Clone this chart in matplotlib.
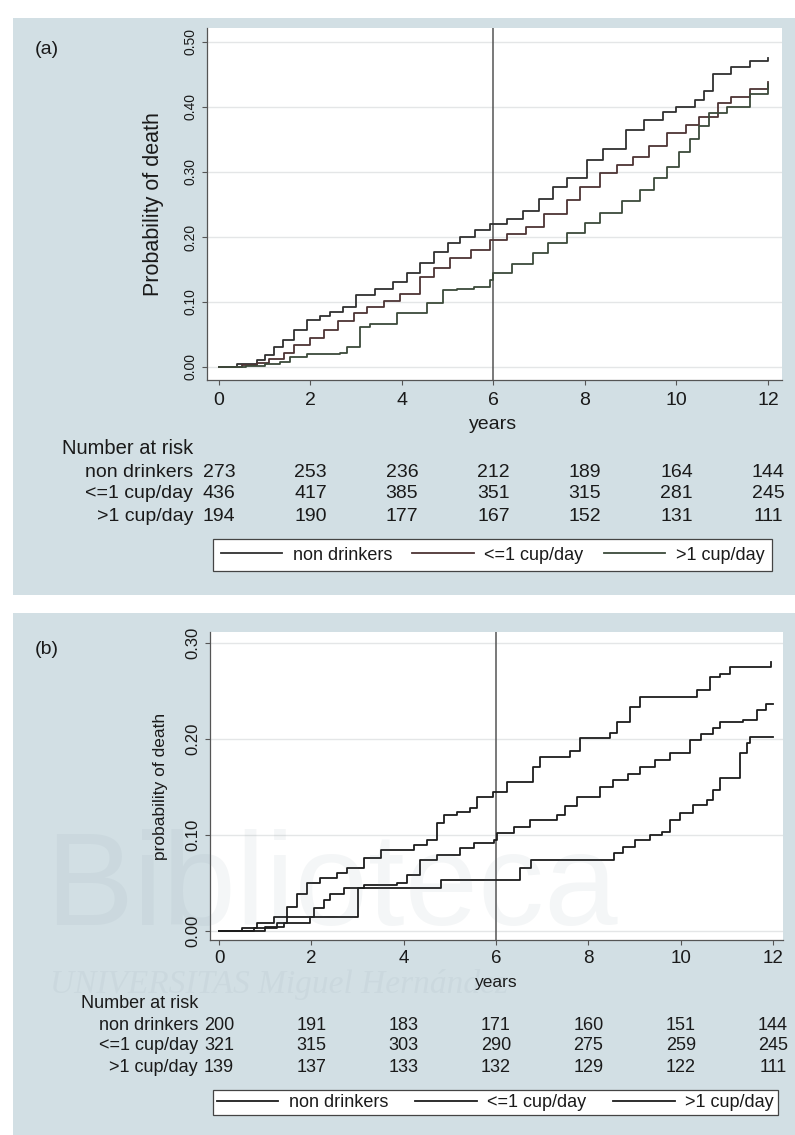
import matplotlib
matplotlib.use("Agg")
import matplotlib.pyplot as plt
from matplotlib.patches import Rectangle
import matplotlib.transforms as mtransforms

plt.rcParams['font.family'] = ['Liberation Sans', 'DejaVu Sans']

# ---------------- data ----------------
groups = ["non drinkers", "<=1 cup/day", ">1 cup/day"]
risk_times = [0, 2, 4, 6, 8, 10, 12]

# panel (a): all participants
a_t_non = [0, 0.4, 0.83, 1.0, 1.2, 1.4, 1.64, 1.92, 2.2, 2.43, 2.7, 3.0, 3.4, 3.8, 4.1, 4.4,
           4.7, 5.0, 5.27, 5.6, 5.92, 6.3, 6.65, 7.0, 7.3, 7.6, 8.04, 8.4, 8.9, 9.3, 9.7,
           10.0, 10.4, 10.6, 10.8, 11.2, 11.6, 12.0]
a_p_non = [0, 0.004, 0.011, 0.018, 0.03, 0.042, 0.057, 0.072, 0.078, 0.085, 0.092, 0.11, 0.12,
           0.13, 0.144, 0.16, 0.177, 0.19, 0.2, 0.21, 0.22, 0.228, 0.24, 0.258, 0.277, 0.29,
           0.318, 0.335, 0.365, 0.38, 0.392, 0.40, 0.41, 0.425, 0.45, 0.462, 0.47, 0.475]
a_t_le1 = [0, 0.5, 0.83, 1.1, 1.42, 1.64, 2.0, 2.3, 2.6, 2.95, 3.24, 3.6, 3.96, 4.4, 4.7, 5.05,
           5.5, 5.92, 6.3, 6.7, 7.1, 7.6, 7.9, 8.33, 8.7, 9.05, 9.4, 9.8, 10.2, 10.5, 10.9,
           11.2, 11.6, 12.0]
a_p_le1 = [0, 0.003, 0.006, 0.012, 0.021, 0.034, 0.045, 0.057, 0.07, 0.083, 0.092, 0.102,
           0.113, 0.139, 0.152, 0.167, 0.18, 0.195, 0.205, 0.216, 0.235, 0.257, 0.277, 0.298,
           0.31, 0.323, 0.34, 0.36, 0.372, 0.385, 0.406, 0.416, 0.428, 0.438]
a_t_gt1 = [0, 0.6, 1.0, 1.33, 1.55, 1.92, 2.64, 2.8, 3.08, 3.3, 3.9, 4.55, 4.9, 5.2, 5.57,
           5.92, 6.0, 6.4, 6.87, 7.2, 7.6, 8.0, 8.33, 8.8, 9.2, 9.5, 9.8, 10.05, 10.3, 10.5,
           10.7, 11.1, 11.6, 12.0]
a_p_gt1 = [0, 0.002, 0.004, 0.008, 0.015, 0.02, 0.021, 0.031, 0.062, 0.066, 0.083, 0.098,
           0.118, 0.12, 0.123, 0.134, 0.144, 0.158, 0.175, 0.19, 0.206, 0.222, 0.237, 0.255,
           0.272, 0.29, 0.308, 0.33, 0.35, 0.37, 0.39, 0.40, 0.42, 0.435]
a_risk_non = [273, 253, 236, 212, 189, 164, 144]
a_risk_le1 = [436, 417, 385, 351, 315, 281, 245]
a_risk_gt1 = [194, 190, 177, 167, 152, 131, 111]

# panel (b)
b_t_non = [0, 0.5, 0.82, 1.19, 1.47, 1.69, 1.9, 2.19, 2.55, 2.77, 3.14, 3.5, 4.22, 4.5, 4.72,
           4.87, 5.16, 5.44, 5.59, 5.94, 6.23, 6.8, 6.95, 7.6, 7.82, 8.47, 8.62, 8.9, 9.12,
           10.35, 10.63, 10.85, 11.07, 11.95]
b_p_non = [0, 0.003, 0.008, 0.015, 0.025, 0.039, 0.05, 0.055, 0.06, 0.066, 0.076, 0.084, 0.09,
           0.095, 0.112, 0.121, 0.124, 0.128, 0.14, 0.145, 0.155, 0.171, 0.181, 0.187, 0.201,
           0.206, 0.218, 0.233, 0.244, 0.251, 0.265, 0.268, 0.275, 0.28]
b_t_le1 = [0, 0.75, 1.26, 1.47, 2.05, 2.27, 2.4, 2.7, 3.14, 3.86, 4.07, 4.36, 4.72, 5.22, 5.52,
           5.96, 6.02, 6.38, 6.74, 7.32, 7.5, 7.75, 8.25, 8.54, 8.85, 9.12, 9.45, 9.77, 10.2,
           10.45, 10.7, 10.85, 11.35, 11.65, 11.85, 12.0]
b_p_le1 = [0, 0.003, 0.008, 0.015, 0.024, 0.032, 0.039, 0.045, 0.048, 0.05, 0.058, 0.074, 0.079,
           0.086, 0.092, 0.095, 0.102, 0.108, 0.116, 0.121, 0.13, 0.14, 0.15, 0.157, 0.164,
           0.171, 0.178, 0.185, 0.199, 0.205, 0.211, 0.218, 0.22, 0.23, 0.237, 0.237]
b_t_gt1 = [0, 1.0, 1.41, 1.97, 3.0, 4.8, 6.52, 6.75, 8.55, 8.75, 9.0, 9.33, 9.6, 9.77, 9.98,
           10.27, 10.57, 10.7, 10.85, 11.28, 11.43, 11.5, 12.0]
b_p_gt1 = [0, 0.004, 0.008, 0.015, 0.045, 0.053, 0.066, 0.074, 0.081, 0.088, 0.095, 0.1, 0.103,
           0.116, 0.123, 0.131, 0.136, 0.147, 0.159, 0.185, 0.196, 0.202, 0.202]
b_risk_non = [200, 191, 183, 171, 160, 151, 144]
b_risk_le1 = [321, 315, 303, 290, 275, 259, 245]
b_risk_gt1 = [139, 137, 133, 132, 129, 122, 111]

# ---------------- figure ----------------
W, H = 795, 1135
fig = plt.figure(figsize=(W / 100, H / 100), dpi=100, facecolor='white')

def fx(px):
    return px / W

def fy(py):
    return 1 - py / H

BG = '#d2dfe4'
TXT = '#1a1a1a'
AXC = '#555555'

# panel backgrounds (drawn beneath the axes)
fig.patches.append(Rectangle((fx(13), fy(595)), fx(795) - fx(13), (595 - 18) / H,
                             transform=fig.transFigure, facecolor=BG, edgecolor='none', zorder=-5))
fig.patches.append(Rectangle((fx(13), fy(1135)), fx(795) - fx(13), (1135 - 613) / H,
                             transform=fig.transFigure, facecolor=BG, edgecolor='none', zorder=-5))


def panel(box, xlim, ylim, yticks, ytick_fs, ylabel, ylabel_fs, ylabel_x, letter, letter_y,
          series, colors, risks, risk_label_x, risk_fs, risk_head_fs, risk_ys, xtick_fs, xtick_pad,
          years_y, years_fs, leg_box, leg_fs, leg_pad):
    L, T, R, B = box
    ax = fig.add_axes([fx(L), fy(B), (R - L) / W, (B - T) / H])
    ax.set_zorder(1)
    ax.set_facecolor('white')
    ax.set_xlim(*xlim)
    ax.set_ylim(*ylim)
    ax.set_xticks(risk_times)
    ax.set_yticks(yticks)
    ax.set_yticklabels([f'{v:.2f}' for v in yticks])
    for s in ['top', 'right']:
        ax.spines[s].set_visible(False)
    for s in ['left', 'bottom']:
        ax.spines[s].set_color(AXC)
        ax.spines[s].set_linewidth(0.9)
    ax.tick_params(axis='x', length=3.6, width=0.8, color=AXC, labelsize=xtick_fs,
                   labelcolor=TXT, pad=xtick_pad)
    ax.tick_params(axis='y', length=3.6, width=0.8, color=AXC, labelsize=ytick_fs,
                   labelcolor=TXT, pad=3, labelrotation=90)
    for lbl in ax.get_yticklabels():
        lbl.set_va('center')
    ax.yaxis.grid(True, color='#e4e6e7', lw=1.0)
    ax.set_axisbelow(True)
    ax.axvline(6, color=AXC, lw=1.1, zorder=1)

    lines = []
    for (t, p), c, g in zip(series, colors, groups):
        ln, = ax.step(t, p, where='post', color=c, lw=1.3, label=g, zorder=3)
        lines.append(ln)

    ax.set_ylabel(ylabel, fontsize=ylabel_fs, color=TXT, va='center')
    ax.yaxis.set_label_coords((ylabel_x - L) / (R - L), 0.5)
    ax.set_xlabel('years', fontsize=years_fs, color=TXT, va='center')
    xpix_6 = L + (6 - xlim[0]) / (xlim[1] - xlim[0]) * (R - L)
    ax.xaxis.set_label_coords((xpix_6 - L) / (R - L), -(years_y - B) / (B - T))

    fig.text(fx(47), fy(letter_y), letter, fontsize=14, color=TXT, ha='center', va='center')

    # number at risk table
    tr = mtransforms.blended_transform_factory(ax.transData, fig.transFigure)
    fig.text(fx(risk_label_x), fy(risk_ys[0]), 'Number at risk', fontsize=risk_head_fs,
             color=TXT, ha='right', va='center')
    for g, vals, yy in zip(groups, risks, risk_ys[1:]):
        fig.text(fx(risk_label_x), fy(yy), g, fontsize=risk_fs, color=TXT, ha='right', va='center')
        for tt, v in zip(risk_times, vals):
            ax.text(tt, fy(yy), str(v), transform=tr, fontsize=risk_fs, color=TXT,
                    ha='center', va='center', clip_on=False)

    lx0, ly0, lx1, ly1 = leg_box
    leg = fig.legend(handles=lines, labels=groups, loc='center', ncol=3, mode='expand',
                     bbox_to_anchor=(fx(lx0), fy(ly1), (lx1 - lx0) / W, (ly1 - ly0) / H),
                     fontsize=leg_fs, frameon=True, fancybox=False, framealpha=1,
                     facecolor='white', edgecolor='#444444', handlelength=3.4,
                     handletextpad=0.6, borderpad=leg_pad, borderaxespad=0)
    leg.get_frame().set_linewidth(0.9)
    leg.set_zorder(2)
    for t in leg.get_texts():
        t.set_color(TXT)
    return ax


panel(box=(207, 28, 782, 380), xlim=(-0.262, 12.306), ylim=(-0.02, 0.5215),
      yticks=[0.0, 0.1, 0.2, 0.3, 0.4, 0.5], ytick_fs=10, ylabel='Probability of death',
      ylabel_fs=15.5, ylabel_x=153, letter='(a)', letter_y=49,
      series=[(a_t_non, a_p_non), (a_t_le1, a_p_le1), (a_t_gt1, a_p_gt1)],
      colors=['#303030', '#4d3434', '#3c4a3a'],
      risks=[a_risk_non, a_risk_le1, a_risk_gt1], risk_label_x=193, risk_fs=14,
      risk_head_fs=14.5, risk_ys=[448, 472, 494, 516], xtick_fs=14, xtick_pad=5,
      years_y=425, years_fs=14, leg_box=(213, 537, 772, 573), leg_fs=13, leg_pad=0.42)

panel(box=(210, 632, 783, 940), xlim=(-0.195, 12.216), ylim=(-0.0094, 0.3115),
      yticks=[0.0, 0.1, 0.2, 0.3], ytick_fs=12, ylabel='probability of death',
      ylabel_fs=12.5, ylabel_x=160, letter='(b)', letter_y=649,
      series=[(b_t_non, b_p_non), (b_t_le1, b_p_le1), (b_t_gt1, b_p_gt1)],
      colors=['#1c1c1c', '#1c1c1c', '#1c1c1c'],
      risks=[b_risk_non, b_risk_le1, b_risk_gt1], risk_label_x=198, risk_fs=13,
      risk_head_fs=13, risk_ys=[1004, 1025, 1046, 1068], xtick_fs=13.5, xtick_pad=3.5,
      years_y=983, years_fs=12.5, leg_box=(213, 1088, 778, 1117), leg_fs=13, leg_pad=0.22)

# faint watermark
fig.text(fx(45), fy(925), 'Biblioteca', fontsize=95, color='#6f8590', alpha=0.07,
         ha='left', va='baseline', zorder=10)
fig.text(fx(50), fy(985), 'UNIVERSITAS Miguel Hernández', fontsize=24, color='#6f8590',
         alpha=0.07, ha='left', va='center', family=['Liberation Serif', 'DejaVu Serif'],
         style='italic', zorder=10)

fig.savefig('out.png', dpi=100, facecolor='white')
